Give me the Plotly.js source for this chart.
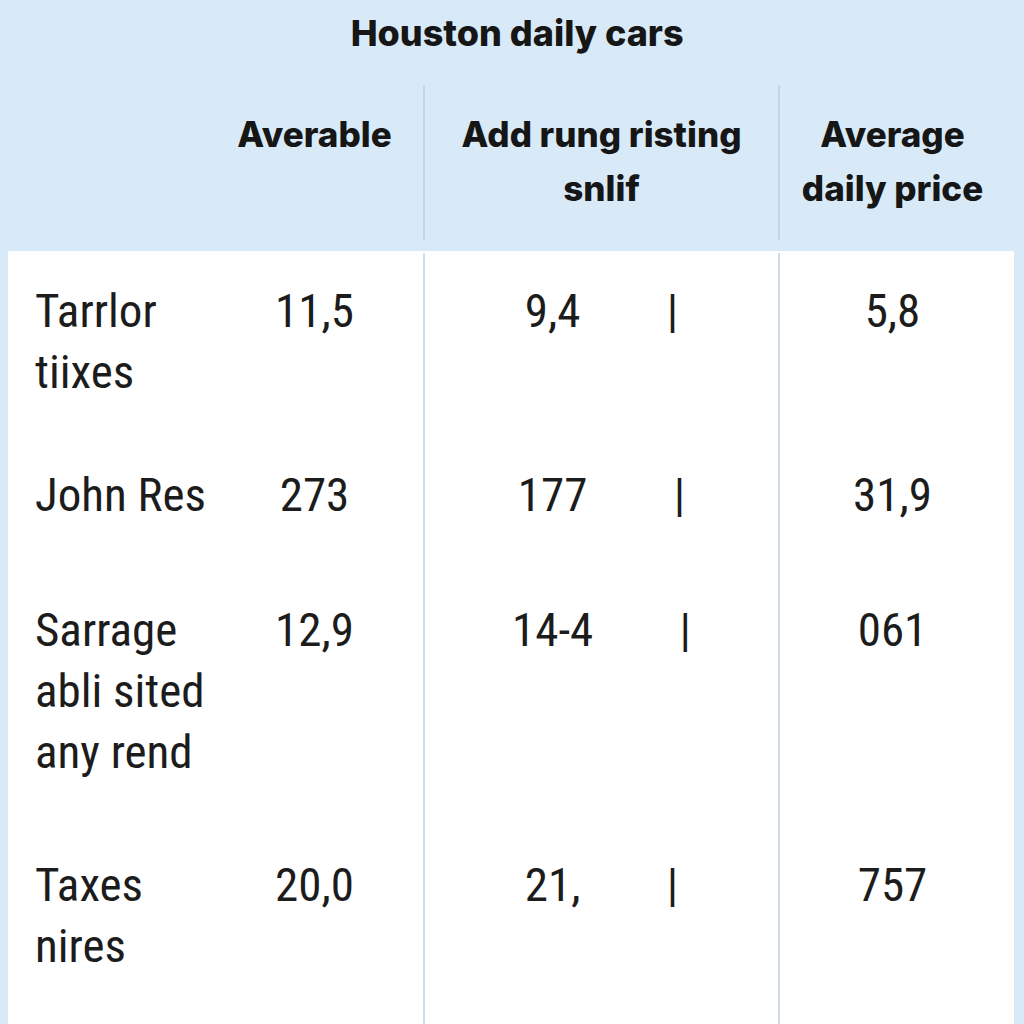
<!DOCTYPE html>
<html>
<head>
<meta charset="utf-8">
<script src="https://cdn.plot.ly/plotly-3.0.1.min.js"></script>
<style>
  html, body { margin: 0; padding: 0; background: #d8eaf8; }
  #tabla { width: 1024px; height: 1024px; }
</style>
</head>
<body>
<div id="tabla"></div>
<script>
// header rows: one list per column, one entry per header line
var headers = [
  ['', '', ''],
  ['Averable', '', ''],
  ['Add rung risting', 'snlif', ''],
  ['Average', 'daily price', '']
];
var rowLabels = ['Tarrlor<br>tiixes', 'John Res', 'Sarrage<br>abli sited<br>any rend', 'Taxes<br>nires'];
var averable = ['11,5', '273', '12,9', '20,0'];
var addRung = ['9,4', '177', '14-4', '21,'];
var avgPrice = ['5,8', '31,9', '061', '757'];
// lines per row (blank ones added) so the rows get the heights of the picture
var rowLines = [3, 1, 4, 2];

var gap = '\u00a0'.repeat(8);
function padRows(col) {
  return col.map(function (v, i) {
    var txt = v.replace(/ /g, '\u00a0');
    var n = txt.split('<br>').length;
    return txt + '<br> '.repeat(Math.max(0, rowLines[i] - n));
  });
}

var bodyFont = 'Roboto Condensed, Roboto, Arial, sans-serif';
var headFont = 'Inter, Roboto, Arial, sans-serif';

var trace = {
  type: 'table',
  domain: {x: [27 / 1024, 1006 / 1024], y: [0, 1 - 113 / 1024]},
  columnwidth: [178, 219, 355, 227],
  header: {
    values: headers,
    align: 'center',
    height: 54,
    fill: {color: 'rgba(0,0,0,0)'},
    line: {color: 'rgba(0,0,0,0)', width: 0},
    font: {family: headFont, size: 35, color: '#161616', weight: 800}
  },
  cells: {
    values: [
      padRows(rowLabels),
      padRows(averable),
      padRows(addRung.map(function (v) { return v + gap + '|'; })),
      padRows(avgPrice)
    ],
    align: ['left', 'center', 'center', 'center'],
    height: 126,
    fill: {color: 'rgba(0,0,0,0)'},
    line: {color: 'rgba(0,0,0,0)', width: 0},
    font: {family: bodyFont, size: 47, color: '#1c1c1c'}
  }
};

var layout = {
  width: 1024,
  height: 1024,
  margin: {l: 0, r: 0, t: 0, b: 0},
  paper_bgcolor: '#d8eaf8',
  title: {
    text: 'Houston daily cars',
    x: 0.505,
    xanchor: 'center',
    y: 0.967,
    yanchor: 'middle',
    font: {family: headFont, size: 36, color: '#161616', weight: 800}
  },
  shapes: [
    {type: 'rect', xref: 'paper', yref: 'paper', x0: 8 / 1024, x1: 1014 / 1024, y0: 0, y1: 1 - 251 / 1024,
      fillcolor: '#ffffff', line: {width: 0}, layer: 'below'},
    {type: 'line', xref: 'paper', yref: 'paper', x0: 424 / 1024, x1: 424 / 1024, y0: 1 - 85 / 1024, y1: 1 - 240 / 1024,
      line: {color: '#b9d0e2', width: 1.5}},
    {type: 'line', xref: 'paper', yref: 'paper', x0: 779 / 1024, x1: 779 / 1024, y0: 1 - 85 / 1024, y1: 1 - 240 / 1024,
      line: {color: '#b9d0e2', width: 1.5}},
    {type: 'line', xref: 'paper', yref: 'paper', x0: 424 / 1024, x1: 424 / 1024, y0: 0, y1: 1 - 253 / 1024,
      line: {color: '#cfdde8', width: 2}},
    {type: 'line', xref: 'paper', yref: 'paper', x0: 779 / 1024, x1: 779 / 1024, y0: 0, y1: 1 - 253 / 1024,
      line: {color: '#cfdde8', width: 2}}
  ]
};

Plotly.newPlot('tabla', [trace], layout, {staticPlot: true});
</script>
</body>
</html>
